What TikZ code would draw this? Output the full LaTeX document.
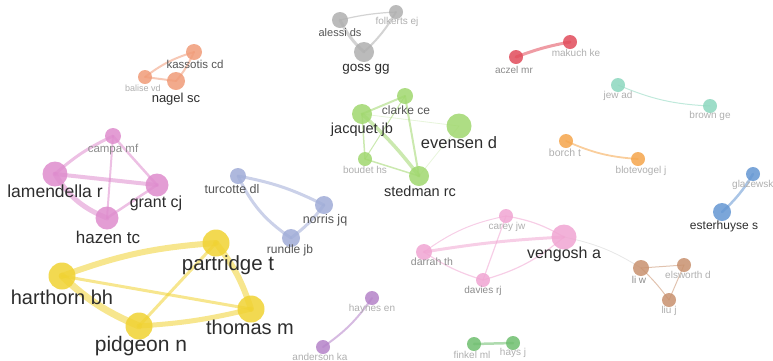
\documentclass[tikz,border=0pt]{standalone}
\usepackage{fontspec}
\setmainfont{Liberation Sans}
\usetikzlibrary{backgrounds}
\definecolor{pinkc}{RGB}{222,140,205}
\definecolor{yelc}{RGB}{240,210,50}
\definecolor{vioc}{RGB}{160,172,215}
\definecolor{grnc}{RGB}{160,215,110}
\definecolor{gryc}{RGB}{175,175,175}
\definecolor{salc}{RGB}{240,155,120}
\definecolor{redc}{RGB}{225,75,90}
\definecolor{tealc}{RGB}{140,215,190}
\definecolor{orgc}{RGB}{245,165,75}
\definecolor{bluc}{RGB}{100,150,210}
\definecolor{brnc}{RGB}{200,145,110}
\definecolor{purc}{RGB}{180,130,200}
\definecolor{gr2c}{RGB}{110,190,110}
\definecolor{pnkc}{RGB}{240,165,210}
\definecolor{txA}{RGB}{45,45,45}
\definecolor{txB}{RGB}{85,85,85}
\definecolor{txC}{RGB}{140,140,140}
\definecolor{txD}{RGB}{175,175,175}
\tikzset{
  au/.style={circle, inner sep=0pt, minimum size=#1, fill opacity=0.85, draw=none},
  ed/.style={draw=#1, draw opacity=0.55, line cap=round},
  lab/.style={inner sep=0pt, font=\fontsize{#1}{#1}\selectfont},
}
\begin{document}
\begin{tikzpicture}[x=1pt,y=-1pt]
\useasboundingbox (0,0) rectangle (773,360);
% grey
\node[au=16pt, fill=gryc] (ale) at (340,20) {};
\node[au=14pt, fill=gryc] (fol) at (396,12) {};
\node[au=20pt, fill=gryc] (gos) at (364,52) {};
% salmon
\node[au=16pt, fill=salc] (kas) at (194,52) {};
\node[au=14pt, fill=salc] (bal) at (145,77) {};
\node[au=18pt, fill=salc] (nag) at (176,81) {};
% red
\node[au=14pt, fill=redc] (acz) at (516,57) {};
\node[au=14pt, fill=redc] (mak) at (570,42) {};
% teal
\node[au=14pt, fill=tealc] (jew) at (618,85) {};
\node[au=14pt, fill=tealc] (bro) at (710,106) {};
% green
\node[au=16pt, fill=grnc] (cla) at (405,96) {};
\node[au=20pt, fill=grnc] (jac) at (362,114) {};
\node[au=25pt, fill=grnc] (eve) at (459,126) {};
\node[au=14pt, fill=grnc] (bou) at (365,159) {};
\node[au=20pt, fill=grnc] (ste) at (419,176) {};
% orange
\node[au=14pt, fill=orgc] (bor) at (566,141) {};
\node[au=14pt, fill=orgc] (blo) at (638,159) {};
% blue
\node[au=14pt, fill=bluc] (gla) at (753,174) {};
\node[au=18pt, fill=bluc] (est) at (722,212) {};
% pink left
\node[au=16pt, fill=pinkc] (cam) at (113,136) {};
\node[au=25pt, fill=pinkc] (lam) at (55,174) {};
\node[au=23pt, fill=pinkc] (gra) at (157,185) {};
\node[au=23pt, fill=pinkc] (haz) at (107,218) {};
% violet
\node[au=16pt, fill=vioc] (tur) at (238,176) {};
\node[au=18pt, fill=vioc] (nor) at (324,205) {};
\node[au=18pt, fill=vioc] (run) at (291,238) {};
% yellow
\node[au=27pt, fill=yelc] (par) at (216,243) {};
\node[au=27pt, fill=yelc] (har) at (62,276) {};
\node[au=27pt, fill=yelc] (tho) at (251,309) {};
\node[au=27pt, fill=yelc] (pid) at (139,326) {};
% pink right
\node[au=14pt, fill=pnkc] (car) at (506,216) {};
\node[au=16pt, fill=pnkc] (dar) at (424,252) {};
\node[au=25pt, fill=pnkc] (ven) at (564,237) {};
\node[au=14pt, fill=pnkc] (dav) at (483,280) {};
% brown
\node[au=16pt, fill=brnc] (liw) at (641,268) {};
\node[au=14pt, fill=brnc] (els) at (684,265) {};
\node[au=14pt, fill=brnc] (liu) at (669,300) {};
% purple
\node[au=14pt, fill=purc] (hay) at (372,298) {};
\node[au=14pt, fill=purc] (and) at (323,347) {};
% green small
\node[au=14pt, fill=gr2c] (fin) at (474,344) {};
\node[au=14pt, fill=gr2c] (hys) at (513,343) {};

\begin{scope}[on background layer]
\draw[ed=gryc, line width=3pt] (ale.center) to[bend right=10] (gos.center);
\draw[ed=gryc, line width=1.2pt] (ale.center) to[bend left=5] (fol.center);
\draw[ed=gryc, line width=2pt] (fol.center) to[bend left=8] (gos.center);
\draw[ed=salc, line width=2pt] (bal.center) to[bend left=10] (kas.center);
\draw[ed=salc, line width=2pt] (bal.center) -- (nag.center);
\draw[ed=salc, line width=2pt] (nag.center) to[bend right=8] (kas.center);
\draw[ed=redc, line width=3pt] (acz.center) to[bend left=5] (mak.center);
\draw[ed=tealc, line width=1pt] (jew.center) to[bend right=10] (bro.center);
\draw[ed=grnc, line width=2pt] (jac.center) -- (cla.center);
\draw[ed=grnc, line width=3.5pt] (jac.center) to[bend left=5] (ste.center);
\draw[ed=grnc, line width=1.5pt] (jac.center) -- (bou.center);
\draw[ed=grnc, line width=1.5pt] (bou.center) -- (ste.center);
\draw[ed=grnc, line width=2pt] (cla.center) -- (ste.center);
\draw[ed=grnc, line width=1pt] (cla.center) -- (bou.center);
\draw[ed=grnc, draw opacity=0.25, line width=0.8pt] (jac.center) -- (eve.center);
\draw[ed=grnc, draw opacity=0.25, line width=0.8pt] (eve.center) -- (ste.center);
\draw[ed=orgc, line width=1.8pt] (bor.center) to[bend right=10] (blo.center);
\draw[ed=bluc, line width=2.5pt] (gla.center) to[bend left=8] (est.center);
\draw[ed=pinkc, line width=3pt] (lam.center) to[bend left=8] (cam.center);
\draw[ed=pinkc, line width=2.5pt] (cam.center) -- (gra.center);
\draw[ed=pinkc, line width=2pt] (cam.center) -- (haz.center);
\draw[ed=pinkc, line width=4pt] (lam.center) -- (gra.center);
\draw[ed=pinkc, line width=5pt] (lam.center) to[bend right=18] (haz.center);
\draw[ed=pinkc, line width=2.5pt] (gra.center) -- (haz.center);
\draw[ed=vioc, line width=3pt] (tur.center) to[bend left=8] (nor.center);
\draw[ed=vioc, line width=3pt] (tur.center) to[bend right=15] (run.center);
\draw[ed=vioc, line width=3pt] (nor.center) to[bend left=8] (run.center);
\draw[ed=yelc, line width=6pt] (har.center) to[bend left=8] (par.center);
\draw[ed=yelc, line width=3pt] (har.center) -- (tho.center);
\draw[ed=yelc, line width=7pt] (har.center) to[bend right=10] (pid.center);
\draw[ed=yelc, line width=6pt] (par.center) to[bend left=10] (tho.center);
\draw[ed=yelc, line width=3pt] (pid.center) -- (par.center);
\draw[ed=yelc, line width=5pt] (pid.center) to[bend right=5] (tho.center);
\draw[ed=pnkc, line width=3pt] (dar.center) to[bend left=3] (ven.center);
\draw[ed=pnkc, line width=1pt] (dar.center) to[bend left=12] (car.center);
\draw[ed=pnkc, line width=1.2pt] (dar.center) to[bend right=8] (dav.center);
\draw[ed=pnkc, line width=1.2pt] (car.center) to[bend left=10] (ven.center);
\draw[ed=pnkc, line width=1.2pt] (car.center) -- (dav.center);
\draw[ed=pnkc, line width=1.2pt] (dav.center) to[bend right=12] (ven.center);
\draw[draw=gryc, draw opacity=0.3, line width=0.8pt] (ven.center) to[bend left=10] (liw.center);
\draw[ed=brnc, line width=1pt] (liw.center) -- (els.center);
\draw[ed=brnc, line width=1pt] (liw.center) to[bend left=5] (liu.center);
\draw[ed=brnc, line width=1pt] (els.center) -- (liu.center);
\draw[ed=purc, line width=2pt] (hay.center) to[bend left=10] (and.center);
\draw[ed=gr2c, line width=2.5pt] (fin.center) -- (hys.center);
\end{scope}

% labels
\node[lab=11, text=txB] (lale) at (340,33) {alessi ds};
\node[lab=10, text=txD] (lfol) at (397,22) {folkerts ej};
\node[lab=13.5, text=txA] (lgos) at (366,69) {goss gg};
\node[lab=11.5, text=txB] (lkas) at (195,64) {kassotis cd};
\node[lab=9, text=txD] (lbal) at (143,88) {balise vd};
\node[lab=13, text=txA] (lnag) at (176,99) {nagel sc};
\node[lab=10, text=txC] (lacz) at (514,70) {aczel mr};
\node[lab=10, text=txD] (lmak) at (576,53) {makuch ke};
\node[lab=10, text=txD] (ljew) at (618,96) {jew ad};
\node[lab=10, text=txD] (lbro) at (710,116) {brown ge};
\node[lab=12, text=txB] (lcla) at (406,110) {clarke ce};
\node[lab=14.5, text=txA] (ljac) at (362,130) {jacquet jb};
\node[lab=16.5, text=txA] (leve) at (459,143) {evensen d};
\node[lab=10, text=txD] (lbou) at (365,170) {boudet hs};
\node[lab=14.5, text=txA] (lste) at (420,191) {stedman rc};
\node[lab=10.5, text=txD] (lbor) at (565,153) {borch t};
\node[lab=10, text=txD] (lblo) at (641,171) {blotevogel j};
\node[lab=10, text=txD, anchor=west] (lgla) at (732,185) {glazewski};
\node[lab=12, text=txA] (lest) at (724,226) {esterhuyse s};
\node[lab=11.5, text=txC] (lcam) at (113,150) {campa mf};
\node[lab=17.5, text=txA] (llam) at (55,191) {lamendella r};
\node[lab=16, text=txA] (lgra) at (156,203) {grant cj};
\node[lab=17, text=txA] (lhaz) at (108,237) {hazen tc};
\node[lab=12.5, text=txB] (ltur) at (232,189) {turcotte dl};
\node[lab=12.5, text=txB] (lnor) at (325,220) {norris jq};
\node[lab=12, text=txB] (lrun) at (290,250) {rundle jb};
\node[lab=20.5, text=txA] (lpar) at (228,265) {partridge t};
\node[lab=20, text=txA] (lhar) at (62,297) {harthorn bh};
\node[lab=20, text=txA] (ltho) at (250,327) {thomas m};
\node[lab=21, text=txA] (lpid) at (141,346) {pidgeon n};
\node[lab=10, text=txD] (lcar) at (507,227) {carey jw};
\node[lab=10.5, text=txC] (ldar) at (432,262) {darrah th};
\node[lab=16, text=txA] (lven) at (564,254) {vengosh a};
\node[lab=10, text=txC] (ldav) at (483,291) {davies rj};
\node[lab=10, text=txC] (lliw) at (639,280) {li w};
\node[lab=10, text=txD] (lels) at (688,275) {elsworth d};
\node[lab=10, text=txD] (lliu) at (669,311) {liu j};
\node[lab=10, text=txD] (lhay) at (372,309) {haynes en};
\node[lab=10, text=txD] (land) at (320,357) {anderson ka};
\node[lab=10, text=txD] (lfin) at (472,355) {finkel ml};
\node[lab=10, text=txD] (lhys) at (513,353) {hays j};
\end{tikzpicture}
\end{document}
